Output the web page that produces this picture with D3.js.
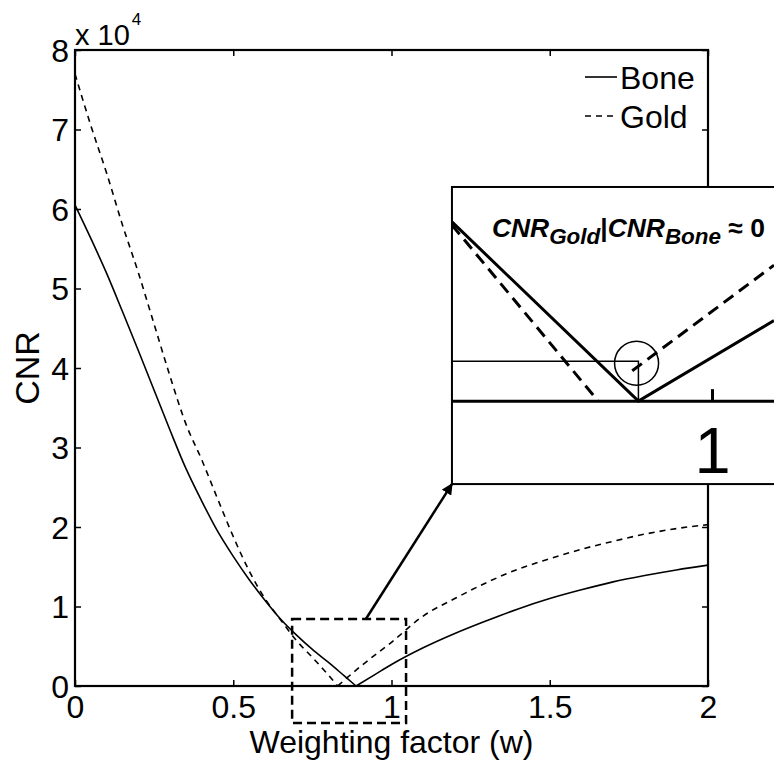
<!DOCTYPE html>
<html>
<head>
<meta charset="utf-8">
<script src="https://cdn.jsdelivr.net/npm/d3@7"></script>
<style>
  body { margin: 0; background: #fff; }
  text { font-family: "Liberation Sans", Arial, sans-serif; fill: #000; }
</style>
</head>
<body>
<div id="chart"></div>
<script>
// CNR vs weighting factor
var wBone = [0, 0.05, 0.1, 0.15, 0.2, 0.25, 0.3, 0.35, 0.4, 0.45, 0.5, 0.55, 0.6, 0.65, 0.7, 0.75, 0.8, 0.85, 0.888,
             0.95, 1.0, 1.1, 1.2, 1.3, 1.4, 1.5, 1.6, 1.7, 1.8, 1.9, 2.0];
var cnrBone = [60500, 56300, 51900, 47100, 42200, 37200, 32200, 27400, 23300, 19500, 16300, 13400, 10800, 8400, 6400, 4600, 3000, 1300, 0,
               1500, 2700, 4800, 6600, 8200, 9700, 11000, 12100, 13100, 13900, 14600, 15200];

var wGold = [0, 0.05, 0.1, 0.15, 0.2, 0.25, 0.3, 0.35, 0.4, 0.45, 0.5, 0.55, 0.6, 0.65, 0.7, 0.75, 0.8, 0.83,
             0.9, 1.0, 1.1, 1.2, 1.3, 1.4, 1.5, 1.6, 1.7, 1.8, 1.9, 2.0];
var cnrGold = [77000, 70500, 64500, 58000, 52000, 45500, 39000, 33000, 28500, 23600, 18800, 14500, 11000, 8300, 5700, 3600, 1400, 0,
               2400, 5500, 8800, 11000, 13000, 14700, 16000, 17200, 18200, 19100, 19800, 20300];

var xTicks = [0, 0.5, 1, 1.5, 2];
var yTicks = [0, 10000, 20000, 30000, 40000, 50000, 60000, 70000, 80000];
var seriesNames = ["Bone", "Gold"];

// dashed zoom box (main data units) and inset frame
var zoomBoxW = [0.686, 1.046];
var zoomBoxCNR = [-4650, 8430];
var arrowFromW = 0.919;
var insetW = [1.191, 2.25];
var insetCNR = [25400, 62770];

// schematic inset, own units
var insetXDomain = [0.578, 1.0995];
var insetYDomain = [-5460, 14100];
var insetBoneW = [0.578, 0.88, 1.0995];
var insetBoneC = [11800, 0, 5300];
var insetGoldW1 = [0.578, 0.815];
var insetGoldC1 = [11600, 0];
var insetGoldW2 = [0.870, 1.0995];
var insetGoldC2 = [2000, 8950];
var insetLevel = 2630;
var insetTick = 1;

var width = 774, height = 762;
var margin = {top: 50, right: 66, bottom: 76, left: 75};

var svg = d3.select("#chart").append("svg")
    .attr("width", width)
    .attr("height", height);

svg.append("rect").attr("width", width).attr("height", height).attr("fill", "#fff");

var x = d3.scaleLinear().domain([0, 2]).range([margin.left, width - margin.right]);
var y = d3.scaleLinear().domain([0, 80000]).range([height - margin.bottom, margin.top]);

var fs = 32;

// axes (ticks pointing inward, matlab style)
var xAxis = svg.append("g")
    .attr("transform", "translate(0," + y(0) + ")")
    .call(d3.axisBottom(x).tickValues(xTicks).tickSize(-6).tickSizeOuter(0).tickPadding(9)
        .tickFormat(function(d) { return d; }));
var xTop = svg.append("g")
    .attr("transform", "translate(0," + y(80000) + ")")
    .call(d3.axisTop(x).tickValues(xTicks).tickSize(-6).tickSizeOuter(0).tickFormat(""));
var yAxis = svg.append("g")
    .attr("transform", "translate(" + x(0) + ",0)")
    .call(d3.axisLeft(y).tickValues(yTicks).tickSize(-6).tickSizeOuter(0).tickPadding(6)
        .tickFormat(function(d) { return d / 10000; }));
var yRight = svg.append("g")
    .attr("transform", "translate(" + x(2) + ",0)")
    .call(d3.axisRight(y).tickValues(yTicks).tickSize(-6).tickSizeOuter(0).tickFormat(""));

[xAxis, xTop, yAxis, yRight].forEach(function(g) {
    g.select(".domain").remove();
    g.selectAll(".tick line").attr("stroke", "#000").attr("stroke-width", 1.5);
    g.selectAll(".tick text").attr("font-size", fs).attr("font-family", "Liberation Sans, Arial, sans-serif").attr("fill", "#000");
});
yAxis.selectAll(".tick text").attr("dy", "0.35em");

svg.append("rect")
    .attr("x", x(0)).attr("y", y(80000))
    .attr("width", x(2) - x(0)).attr("height", y(0) - y(80000))
    .attr("fill", "none").attr("stroke", "#000").attr("stroke-width", 2.2);

// exponent label
var expo = svg.append("text").attr("x", x(0)).attr("y", y(80000) - 5).attr("font-size", 29);
expo.append("tspan").text("x 10");
expo.append("tspan").attr("dx", 2).attr("dy", -20).attr("font-size", 17).text("4");

svg.append("text")
    .attr("x", x(1)).attr("y", height - 9)
    .attr("text-anchor", "middle").attr("font-size", fs)
    .text("Weighting factor (w)");

svg.append("text")
    .attr("transform", "translate(39," + ((y(0) + y(80000)) / 2) + ") rotate(-90)")
    .attr("text-anchor", "middle").attr("font-size", 34)
    .text("CNR");

// curves, split at the minimum so the V stays sharp
var line = d3.line()
    .x(function(d) { return x(d[0]); })
    .y(function(d) { return y(d[1]); })
    .curve(d3.curveMonotoneX);

function branches(ws, cs) {
    var pts = ws.map(function(w, i) { return [w, cs[i]]; });
    var k = d3.minIndex(cs);
    return [pts.slice(0, k + 1), pts.slice(k)];
}

branches(wBone, cnrBone).forEach(function(b) {
    svg.append("path").attr("d", line(b))
        .attr("fill", "none").attr("stroke", "#000").attr("stroke-width", 1.6);
});
branches(wGold, cnrGold).forEach(function(b) {
    svg.append("path").attr("d", line(b))
        .attr("fill", "none").attr("stroke", "#000").attr("stroke-width", 1.6)
        .attr("stroke-dasharray", "6,5");
});

// dashed zoom box
svg.append("rect")
    .attr("x", x(zoomBoxW[0])).attr("y", y(zoomBoxCNR[1]))
    .attr("width", x(zoomBoxW[1]) - x(zoomBoxW[0]))
    .attr("height", y(zoomBoxCNR[0]) - y(zoomBoxCNR[1]))
    .attr("fill", "none").attr("stroke", "#000").attr("stroke-width", 2.5)
    .attr("stroke-dasharray", "9,5");

// arrow to the inset
svg.append("defs").append("marker")
    .attr("id", "head").attr("viewBox", "0 0 10 10")
    .attr("refX", 9).attr("refY", 5)
    .attr("markerWidth", 4.5).attr("markerHeight", 4.5)
    .attr("orient", "auto")
    .append("path").attr("d", "M0,0 L10,5 L0,10 z").attr("fill", "#000");

svg.append("line")
    .attr("x1", x(arrowFromW)).attr("y1", y(zoomBoxCNR[1]))
    .attr("x2", x(insetW[0])).attr("y2", y(insetCNR[0]))
    .attr("stroke", "#000").attr("stroke-width", 2.5)
    .attr("marker-end", "url(#head)");

// inset
var iL = x(insetW[0]), iR = x(insetW[1]), iT = y(insetCNR[1]), iB = y(insetCNR[0]);
var ix = d3.scaleLinear().domain(insetXDomain).range([iL, iL + 322]);
var iy = d3.scaleLinear().domain(insetYDomain).range([iB, iT]);

svg.append("clipPath").attr("id", "insetClip")
    .append("rect").attr("x", iL).attr("y", iT).attr("width", iR - iL).attr("height", iB - iT);

var inset = svg.append("g");
inset.append("rect")
    .attr("x", iL).attr("y", iT).attr("width", iR - iL).attr("height", iB - iT)
    .attr("fill", "#fff").attr("stroke", "#000").attr("stroke-width", 2);

var ig = inset.append("g").attr("clip-path", "url(#insetClip)");
var iline = d3.line().x(function(d) { return ix(d[0]); }).y(function(d) { return iy(d[1]); });

ig.append("line")
    .attr("x1", iL).attr("x2", iR).attr("y1", iy(0)).attr("y2", iy(0))
    .attr("stroke", "#000").attr("stroke-width", 3);
ig.append("line")
    .attr("x1", ix(insetTick)).attr("x2", ix(insetTick)).attr("y1", iy(0)).attr("y2", iy(0) - 12)
    .attr("stroke", "#000").attr("stroke-width", 3);
ig.append("text")
    .attr("x", ix(insetTick)).attr("y", iy(0) + 72)
    .attr("text-anchor", "middle").attr("font-size", 65)
    .text(insetTick);

var bMin = insetBoneW[d3.minIndex(insetBoneC)];
ig.append("path")
    .attr("d", iline([[insetXDomain[0], insetLevel], [bMin, insetLevel], [bMin, 0]]))
    .attr("fill", "none").attr("stroke", "#000").attr("stroke-width", 1.5);
ig.append("circle")
    .attr("cx", ix(bMin - 0.003)).attr("cy", iy(insetLevel - 130)).attr("r", 22)
    .attr("fill", "none").attr("stroke", "#000").attr("stroke-width", 1.5);

ig.append("path")
    .attr("d", iline(insetBoneW.map(function(w, i) { return [w, insetBoneC[i]]; })))
    .attr("fill", "none").attr("stroke", "#000").attr("stroke-width", 3);
[[insetGoldW1, insetGoldC1], [insetGoldW2, insetGoldC2]].forEach(function(s) {
    ig.append("path")
        .attr("d", iline(s[0].map(function(w, i) { return [w, s[1][i]]; })))
        .attr("fill", "none").attr("stroke", "#000").attr("stroke-width", 3)
        .attr("stroke-dasharray", "12,7");
});

// inset title, scaled so it spans the same width as the original
var title = ig.append("text")
    .attr("x", iL + 40).attr("y", iT + 50)
    .attr("font-family", "DejaVu Serif, serif")
    .attr("font-weight", "bold");
var parts = [
    {t: "CNR", s: 1, dy: 0, it: true},
    {t: seriesNames[1], s: 0.85, dy: 0.27, it: true},
    {t: "|", s: 1, dy: -0.27, it: false},
    {t: "CNR", s: 1, dy: 0, it: true},
    {t: seriesNames[0], s: 0.85, dy: 0.27, it: true},
    {t: " \u2248 0", s: 1, dy: -0.27, it: false}
];
function setTitle(base) {
    title.selectAll("tspan").remove();
    parts.forEach(function(p) {
        title.append("tspan")
            .attr("font-size", base * p.s)
            .attr("dy", p.dy * base)
            .attr("font-style", p.it ? "italic" : "normal")
            .text(p.t);
    });
}
setTitle(22);
var natural = title.node().getComputedTextLength();
setTitle(22 * 273 / natural);

// legend
var legend = svg.append("g");
seriesNames.forEach(function(name, i) {
    var ly = 77 + i * 39;
    legend.append("line")
        .attr("x1", 585).attr("x2", 617).attr("y1", ly).attr("y2", ly)
        .attr("stroke", "#000").attr("stroke-width", 1.6)
        .attr("stroke-dasharray", i === 1 ? "6,5" : null);
    legend.append("text")
        .attr("x", 620).attr("y", ly + 12)
        .attr("font-size", fs)
        .text(name);
});
</script>
</body>
</html>
